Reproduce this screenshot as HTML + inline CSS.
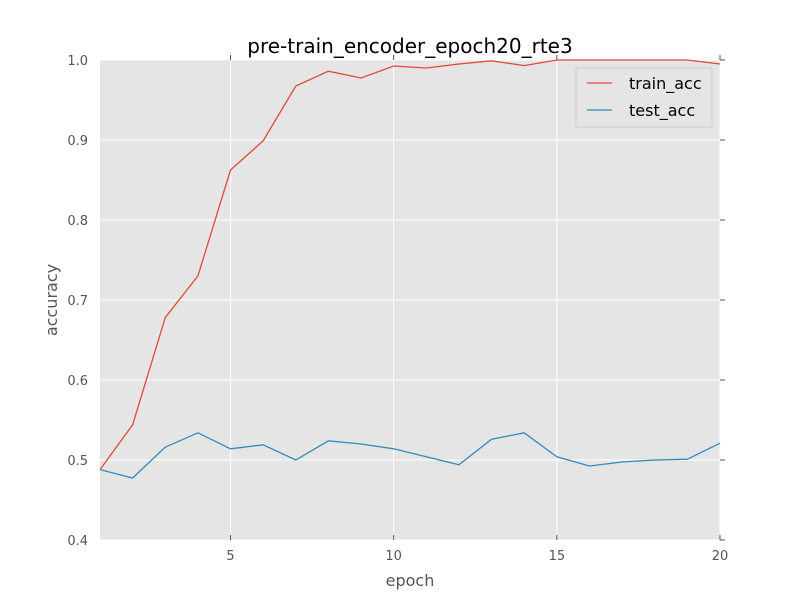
<!DOCTYPE html>
<html><head><meta charset="utf-8"><style>
body{margin:0;background:#fff}
svg text{font-family:"DejaVu Sans","Liberation Sans",sans-serif}
</style></head><body>
<svg id="chart" width="800" height="600" xmlns="http://www.w3.org/2000/svg">
<rect width="800" height="600" fill="#fff"/>
<rect x="100" y="60" width="620" height="480" fill="#e5e5e5"/>
<g id="grid"></g><g id="ticks"></g><g id="series"></g>
<text x="410" y="53" font-size="20" text-anchor="middle" fill="#000">pre-train_encoder_epoch20_rte3</text>
<text x="410" y="586" font-size="16" text-anchor="middle" fill="#555">epoch</text>
<text x="57" y="300" font-size="16" text-anchor="middle" fill="#555" transform="rotate(-90 57 300)">accuracy</text>
<g>
<rect x="576" y="68" width="136" height="59" fill="#e5e5e5" stroke="#ccc"/>
<line x1="587" y1="83" x2="612" y2="83" stroke="#e24a33" stroke-width="1.3"/>
<text x="629" y="89" font-size="16" fill="#000">train_acc</text>
<line x1="587" y1="110" x2="612" y2="110" stroke="#348abd" stroke-width="1.3"/>
<text x="629" y="116" font-size="16" fill="#000">test_acc</text>
</g>
</svg>
<script>
const epochs=[1,2,3,4,5,6,7,8,9,10,11,12,13,14,15,16,17,18,19,20];
const trainAcc=[0.488,0.544,0.678,0.73,0.8625,0.899,0.9675,0.986,0.9775,0.9925,0.99,0.995,0.999,0.993,1.0,1.0,1.0,1.0,1.0,0.995];
const testAcc=[0.488,0.4775,0.516,0.534,0.514,0.519,0.5,0.524,0.52,0.514,0.504,0.494,0.526,0.534,0.504,0.4925,0.4975,0.5,0.501,0.521];
const xTicks=[5,10,15,20];
const yTicks=[0.4,0.5,0.6,0.7,0.8,0.9,1.0];
const X=v=>100+(v-1)/19*620, Y=v=>540-(v-0.4)/0.6*480;
const NS="http://www.w3.org/2000/svg";
function mk(tag,attrs,parent){const e=document.createElementNS(NS,tag);for(const k in attrs)e.setAttribute(k,attrs[k]);parent.appendChild(e);return e;}
const grid=document.getElementById('grid'),ticks=document.getElementById('ticks'),series=document.getElementById('series');
xTicks.forEach(t=>{
 const l=mk('line',{x1:X(t),x2:X(t),y1:60,y2:540,stroke:'#fff','stroke-width':1},grid);
 
 
 mk('line',{x1:X(t),x2:X(t),y1:540,y2:535,stroke:'#555'},ticks);
 mk('line',{x1:X(t),x2:X(t),y1:60,y2:55,stroke:'#555'},ticks);
 const tx=mk('text',{x:X(t),y:560,'font-size':13,'text-anchor':'middle',fill:'#555'},ticks);
 tx.textContent=t;
 
 
});
yTicks.forEach(t=>{
 const l=mk('line',{x1:100,x2:720,y1:Y(t),y2:Y(t),stroke:'#fff','stroke-width':1},grid);
 
 
 mk('line',{x1:720,x2:725,y1:Y(t),y2:Y(t),stroke:'#555'},ticks);
 const tx=mk('text',{x:88,y:Y(t)+5,'font-size':13,'text-anchor':'end',fill:'#555'},ticks);
 tx.textContent=t.toFixed(1);
 
 
});
function line(vals,color,name){
 const p=mk('polyline',{points:vals.map((v,i)=>X(epochs[i])+','+Y(v)).join(' '),fill:'none',stroke:color,'stroke-width':1.3},series);
 
 
}
line(trainAcc,'#e24a33','train-acc-line');
line(testAcc,'#348abd','test-acc-line');
</script>
</body></html>
